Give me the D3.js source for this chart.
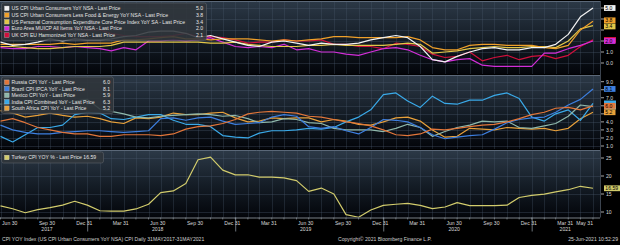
<!DOCTYPE html>
<html><head><meta charset="utf-8">
<script src="https://cdn.jsdelivr.net/npm/d3@7"></script>
<style>
body{margin:0;background:#000;}
svg{display:block;font-family:"Liberation Sans",Arial,sans-serif;}
</style></head>
<body><svg id="c" width="620" height="245"></svg>
<script>
// ---------- DATA ----------
const months = [
 "2017-05","2017-06","2017-07","2017-08","2017-09","2017-10","2017-11","2017-12",
 "2018-01","2018-02","2018-03","2018-04","2018-05","2018-06","2018-07","2018-08","2018-09","2018-10","2018-11","2018-12",
 "2019-01","2019-02","2019-03","2019-04","2019-05","2019-06","2019-07","2019-08","2019-09","2019-10","2019-11","2019-12",
 "2020-01","2020-02","2020-03","2020-04","2020-05","2020-06","2020-07","2020-08","2020-09","2020-10","2020-11","2020-12",
 "2021-01","2021-02","2021-03","2021-04","2021-05"];

const usCpi   = [1.9,1.6,1.7,1.9,2.2,2.0,2.2,2.1, 2.1,2.2,2.4,2.5,2.8,2.9,2.9,2.7,2.3,2.5,2.2,1.9, 1.6,1.5,1.9,2.0,1.8,1.6,1.8,1.7,1.7,1.8,2.1,2.3, 2.5,2.3,1.5,0.3,0.1,0.6,1.0,1.3,1.4,1.2,1.2,1.4, 1.4,1.7,2.6,4.2,5.0];
const usCore  = [1.7,1.7,1.7,1.7,1.7,1.8,1.7,1.8, 1.8,1.8,2.1,2.1,2.2,2.3,2.4,2.2,2.2,2.1,2.2,2.2, 2.2,2.1,2.0,2.1,2.0,2.1,2.2,2.4,2.4,2.3,2.3,2.3, 2.3,2.4,2.1,1.4,1.2,1.2,1.6,1.7,1.7,1.6,1.6,1.6, 1.4,1.3,1.6,3.0,3.8];
const corePce = [1.5,1.5,1.4,1.3,1.3,1.4,1.5,1.5, 1.5,1.6,1.9,1.9,1.9,1.9,1.9,1.9,1.9,1.8,1.8,1.9, 1.7,1.6,1.5,1.5,1.5,1.6,1.6,1.7,1.6,1.6,1.6,1.6, 1.7,1.8,1.7,0.9,1.0,1.1,1.3,1.4,1.5,1.4,1.4,1.5, 1.5,1.4,2.0,3.1,3.4];
const euroHicp= [1.4,1.3,1.3,1.5,1.5,1.4,1.5,1.4, 1.3,1.1,1.4,1.2,2.0,2.0,2.1,2.0,2.1,2.3,1.9,1.5, 1.4,1.5,1.4,1.7,1.2,1.3,1.0,1.0,0.8,0.7,1.0,1.3, 1.4,1.2,0.7,0.3,0.1,0.3,0.4,-0.2,-0.3,-0.3,-0.3,-0.3, 0.9,0.9,1.3,1.6,2.0];
const ukCpi   = [2.9,2.6,2.6,2.9,3.0,3.0,3.1,3.0, 3.0,2.7,2.5,2.4,2.4,2.4,2.5,2.7,2.4,2.4,2.3,2.1, 1.8,1.9,1.9,2.1,2.0,2.0,2.1,1.7,1.7,1.5,1.5,1.3, 1.8,1.7,1.5,0.8,0.5,0.6,1.0,0.2,0.5,0.7,0.3,0.6, 0.7,0.4,0.7,1.5,2.1];

const russia  = [4.1,4.4,3.9,3.3,3.0,2.7,2.5,2.5, 2.2,2.2,2.4,2.4,2.4,2.3,2.5,3.1,3.4,3.5,3.8,4.3, 5.0,5.2,5.3,5.2,5.1,4.7,4.6,4.3,4.0,3.8,3.5,3.0, 2.4,2.3,2.5,3.1,3.0,3.2,3.4,3.6,3.7,4.0,4.4,4.9, 5.2,5.7,5.8,5.5,6.0];
const brazil  = [3.6,3.0,2.7,2.5,2.5,2.7,2.8,2.9, 2.9,2.8,2.7,2.8,2.9,4.4,4.5,4.2,4.5,4.6,4.1,3.7, 3.8,3.9,4.6,4.9,4.7,3.4,3.2,3.4,2.9,2.5,3.3,4.3, 4.2,4.0,3.3,2.4,1.9,2.1,2.3,2.4,3.1,3.9,4.3,4.5, 4.6,5.2,6.1,6.8,8.1];
const mexico  = [6.2,6.3,6.4,6.7,6.4,6.4,6.6,6.8, 5.6,5.3,5.0,4.6,4.5,4.7,4.8,4.9,5.0,4.9,4.7,4.8, 4.4,3.9,4.0,4.4,4.3,3.9,3.8,3.2,3.0,3.0,3.0,2.8, 3.2,3.7,3.3,2.2,2.8,3.3,3.6,4.1,4.0,4.1,3.3,3.2, 3.5,3.8,4.7,6.1,5.9];
const india   = [2.2,1.5,2.4,3.3,3.3,3.6,4.9,5.2, 5.1,4.4,4.3,4.6,4.9,4.9,4.2,3.7,3.7,3.4,2.3,2.1, 2.0,2.6,2.9,2.9,3.0,3.2,3.1,3.3,4.0,4.6,5.5,7.4, 7.6,6.6,5.8,7.2,6.3,6.2,6.7,6.7,7.3,7.6,6.9,4.6, 4.1,5.0,5.5,4.2,6.3];
const southAfrica = [5.4,5.1,4.6,4.8,5.1,4.8,4.6,4.7, 4.4,4.0,3.8,4.5,4.4,4.6,5.1,4.9,4.9,5.1,5.2,4.5, 4.0,4.1,4.5,4.4,4.5,4.5,4.0,4.3,4.1,3.7,3.6,4.0, 4.5,4.6,4.1,3.0,2.1,2.2,3.2,3.1,3.0,3.3,3.2,3.1, 3.2,2.9,3.2,4.4,5.2];

const turkey  = [11.72,10.9,9.79,10.68,11.2,11.9,12.98,11.92, 10.35,10.26,10.23,10.85,12.15,15.39,15.85,17.9,24.52,25.24,21.62,20.3, 20.35,19.67,19.71,19.5,18.71,15.72,16.65,15.01,9.26,8.55,10.56,11.84, 12.15,12.37,11.86,10.94,11.39,12.62,11.76,11.77,11.75,11.89,14.03,14.6, 14.97,15.61,16.19,17.14,16.59];

const names1 = ["US CPI Urban Consumers YoY NSA - Last Price",
  "US CPI Urban Consumers Less Food & Energy YoY NSA - Last Price",
  "US Personal Consumption Expenditure Core Price Index YoY SA - Last Price",
  "Euro Area MUICP All Items YoY NSA - Last Price",
  "UK CPI EU Harmonized YoY NSA - Last Price"];
const names2 = ["Russia CPI YoY - Last Price","Brazil CPI IPCA YoY - Last Price",
  "Mexico CPI YoY - Last Price","India CPI Combined YoY - Last Price","South Africa CPI YoY - Last Price"];
const names3 = ["Turkey CPI YOY % - Last Price"];

const colors1 = ["#f2f2f2","#f0a02a","#e2c648","#d22ed8","#d0103c"];
const colors2 = ["#e2763a","#3d7fe0","#8fb8ab","#3aa9e8","#e8a03a"];
const colors3 = ["#d2cc6c"];

const ticks1 = [0,1,2,3,4,5];
const ticks2 = [1,2,3,4,5,6,7,8,9];
const ticks3 = [10,15,20,25];

const xTickDates = ["2017-06-30","2017-09-30","2017-12-31","2018-03-31","2018-06-30","2018-09-30","2018-12-31",
 "2019-03-31","2019-06-30","2019-09-30","2019-12-31","2020-03-31","2020-06-30","2020-09-30","2020-12-31",
 "2021-03-31","2021-05-31"];
const years = ["2017","2018","2019","2020","2021"];

const footerLeft = "CPI YOY Index (US CPI Urban Consumers YoY NSA) CPI  Daily 31MAY2017-31MAY2021";
const footerMid = "Copyright\u00A9 2021 Bloomberg Finance L.P.";
const footerRight = "25-Jun-2021 10:52:29";

// ---------- CHART ----------
const svg = d3.select("#c");
const FS = 5.1;
const parseM = d3.timeParse("%Y-%m");
const monthEnd = m => d3.timeDay.offset(d3.timeMonth.offset(parseM(m),1),-1);
const dates = months.map(monthEnd);
const pDay = d3.timeParse("%Y-%m-%d");
const plotR = 600;
const x = d3.scaleTime().domain([dates[0], dates[dates.length-1]]).range([0.5, 593]);

const defs = svg.append("defs");
const grad = defs.append("linearGradient").attr("id","bg").attr("x1",0).attr("y1",0).attr("x2",0).attr("y2",1);
grad.append("stop").attr("offset","0%").attr("stop-color","#2c3947");
grad.append("stop").attr("offset","55%").attr("stop-color","#131b24");
grad.append("stop").attr("offset","100%").attr("stop-color","#03050a");

const panels = [
 {top:1, bottom:74, y:d3.scaleLinear().domain([0,5]).range([63,8]), ticks:ticks1, fmt:d3.format(".1f"),
  series:[usCpi,usCore,corePce,euroHicp,ukCpi], names:names1, colors:colors1, vfmt:d3.format(".1f"),
  legend:{w:205, rowH:6.7, valX:203}, hiddenBoxes:[4], shownBoxes:[0,1,2,3]},
 {top:75, bottom:149, y:d3.scaleLinear().domain([1,9]).range([146,81.7]), ticks:ticks2, fmt:d3.format(".1f"),
  series:[russia,brazil,mexico,india,southAfrica], names:names2, colors:colors2, vfmt:d3.format(".1f"),
  legend:{w:112, rowH:6.5, valX:110}, hiddenBoxes:[3,2], shownBoxes:[1,0,4]},
 {top:150, bottom:217.5, y:d3.scaleLinear().domain([10,25]).range([212,158]), ticks:ticks3, fmt:d3.format("d"),
  series:[turkey], names:names3, colors:colors3, vfmt:d3.format(".2f"),
  legend:{w:102, rowH:7, inline:true}, hiddenBoxes:[], shownBoxes:[0]}
];

const BH = 5.8;
panels.forEach((p,pi)=>{
  const g = svg.append("g");
  g.append("rect").attr("x",0).attr("y",p.top).attr("width",plotR).attr("height",p.bottom-p.top).attr("fill","url(#bg)");
  g.selectAll(".vg").data(dates).join("line")
    .attr("x1",d=>Math.round(x(d))+0.5).attr("x2",d=>Math.round(x(d))+0.5)
    .attr("y1",p.top).attr("y2",p.bottom)
    .attr("stroke","#4a5a6c").attr("stroke-opacity",0.45).attr("stroke-width",0.7);
  g.selectAll(".hg").data(p.ticks).join("line")
    .attr("x1",0).attr("x2",plotR)
    .attr("y1",d=>Math.round(p.y(d))+0.5).attr("y2",d=>Math.round(p.y(d))+0.5)
    .attr("stroke","#4a5a6c").attr("stroke-opacity",0.5).attr("stroke-width",0.7);
  g.append("line").attr("x1",0).attr("x2",plotR).attr("y1",p.top+0.5).attr("y2",p.top+0.5)
    .attr("stroke","#5b6878").attr("stroke-width",1);
  const cid = "clip"+pi;
  defs.append("clipPath").attr("id",cid).append("rect").attr("x",0).attr("y",p.top).attr("width",plotR).attr("height",p.bottom-p.top);
  const line = d3.line().x((d,i)=>x(dates[i])).y(d=>p.y(d));
  const lg = g.append("g").attr("clip-path",`url(#${cid})`);
  p.series.map((s,i)=>i).reverse().forEach(i=>{
    lg.append("path").datum(p.series[i]).attr("d",line).attr("fill","none")
      .attr("stroke",p.colors[i]).attr("stroke-width",1.2).attr("stroke-linejoin","round");
  });
  // legend
  const L = p.legend;
  const n = p.series.length;
  const lgH = n*L.rowH + 4;
  const lgy = p.top + 2;
  g.append("rect").attr("x",1.5).attr("y",lgy).attr("width",L.w).attr("height",lgH).attr("rx",2)
    .attr("fill","#30353b").attr("fill-opacity",0.88).attr("stroke","#5c6168").attr("stroke-width",0.6);
  p.series.forEach((s,i)=>{
    const cy = lgy + 2 + L.rowH*(i+0.5);
    g.append("rect").attr("x",4.5).attr("y",cy-2.3).attr("width",4.6).attr("height",4.6)
      .attr("fill",p.colors[i]).attr("stroke","#ddd").attr("stroke-width",0.3);
    const last = s[s.length-1];
    const txt = L.inline ? `${p.names[i]} ${p.vfmt(last)}` : p.names[i];
    g.append("text").attr("x",11.5).attr("y",cy+1.8).attr("font-size",FS).attr("fill","#e6e6e6").text(txt);
    if(!L.inline){
      g.append("text").attr("x",L.valX).attr("y",cy+1.8).attr("font-size",FS).attr("fill","#e6e6e6")
        .attr("text-anchor","end").text(p.vfmt(last));
    }
  });
  // value boxes: positions with simple collision spreading
  const shown = p.shownBoxes.map(i=>({i, v:p.series[i][p.series[i].length-1], y:p.y(p.series[i][p.series[i].length-1])}))
    .sort((a,b)=>a.y-b.y);
  for(let k=1;k<shown.length;k++){
    const gap = shown[k].y - shown[k-1].y;
    if(gap < BH+0.3){ const d=(BH+0.3-gap)/2; shown[k-1].y-=d; shown[k].y+=d; }
  }
  const ax = svg.append("g");
  const visTicks = p.ticks.filter(t=>shown.every(b=>Math.abs(p.y(t)-b.y)>5));
  ax.selectAll("line").data(p.ticks).join("line")
    .attr("x1",plotR+1).attr("x2",plotR+4).attr("y1",d=>p.y(d)).attr("y2",d=>p.y(d))
    .attr("stroke","#d0d0d0").attr("stroke-width",0.8);
  ax.selectAll("text").data(visTicks).join("text")
    .attr("x",plotR+6).attr("y",d=>p.y(d)+1.8).attr("font-size",FS).attr("fill","#d8d8d8").text(p.fmt);
  p.hiddenBoxes.forEach(i=>{
    const s=p.series[i]; const yy=p.y(s[s.length-1]);
    ax.append("rect").attr("x",plotR+4).attr("y",yy-BH/2).attr("width",12).attr("height",BH).attr("fill",p.colors[i]);
  });
  shown.forEach(b=>{
    const label = p.vfmt(b.v);
    const bw = label.length>3 ? 16 : 11.5;
    ax.append("rect").attr("x",plotR+4).attr("y",b.y-BH/2).attr("width",bw).attr("height",BH).attr("fill",p.colors[b.i]);
    ax.append("text").attr("x",plotR+5.3).attr("y",b.y+1.8).attr("font-size",FS).attr("fill","#000").text(label);
  });
});

svg.append("line").attr("x1",plotR+0.5).attr("x2",plotR+0.5).attr("y1",1).attr("y2",217.5).attr("stroke","#4b5663").attr("stroke-width",0.8);

// x axis
const axY = 217.5;
svg.append("line").attr("x1",0).attr("x2",plotR).attr("y1",axY+0.5).attr("y2",axY+0.5).attr("stroke","#9aa3ad").attr("stroke-width",0.8);
const xg = svg.append("g");
xg.selectAll(".mt").data(dates).join("line")
  .attr("x1",d=>x(d)).attr("x2",d=>x(d)).attr("y1",axY).attr("y2",axY+2)
  .attr("stroke","#9aa3ad").attr("stroke-width",0.6);
const tickD = xTickDates.map(pDay);
const fmtT = d3.timeFormat("%b %d");
xg.selectAll(".tl").data(tickD).join("text")
  .attr("x",(d,i)=> i===tickD.length-1 ? x(d) : x(d)-3)
  .attr("y",axY+7).attr("font-size",FS).attr("fill","#d8d8d8")
  .attr("text-anchor",(d,i)=> i===tickD.length-1 ? "end" : "middle").text(fmtT);
const yearStarts = years.slice(1).map(y=>pDay(y+"-01-01"));
xg.selectAll(".ys").data(yearStarts).join("line")
  .attr("x1",d=>x(d)).attr("x2",d=>x(d)).attr("y1",axY).attr("y2",axY+14)
  .attr("stroke","#9aa3ad").attr("stroke-width",0.7);
years.forEach(yr=>{
  const tk = tickD.filter(d=>d.getFullYear()===+yr);
  const d = tk[Math.floor((tk.length-1)/2)];
  xg.append("text").attr("x",x(d)-3).attr("y",axY+13.5).attr("font-size",FS).attr("fill","#d8d8d8")
    .attr("text-anchor","middle").text(yr);
});

svg.append("text").attr("x",2).attr("y",240.5).attr("font-size",FS).attr("fill","#d0d0d0").text(footerLeft);
svg.append("text").attr("x",338).attr("y",240.5).attr("font-size",FS).attr("fill","#d0d0d0").text(footerMid);
svg.append("text").attr("x",618).attr("y",240.5).attr("font-size",FS).attr("fill","#d0d0d0").attr("text-anchor","end").text(footerRight);
</script>
</body></html>
